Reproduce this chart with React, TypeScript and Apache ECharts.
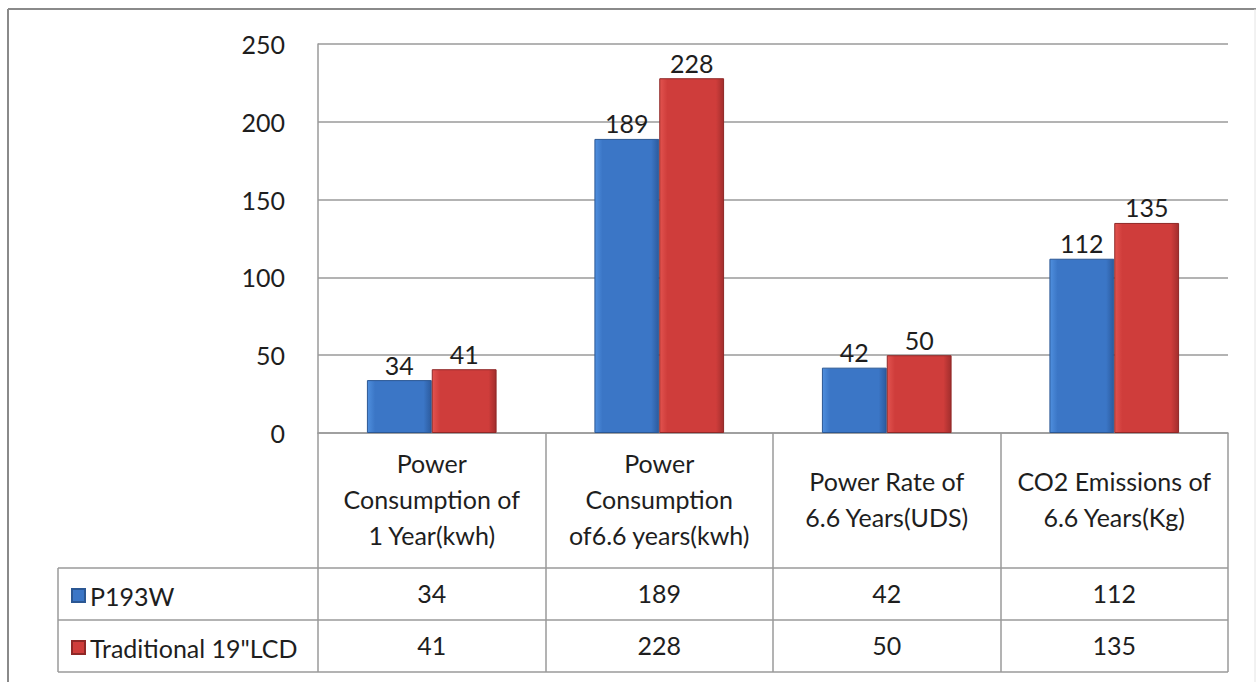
import React, { useEffect, useRef } from "react";
import * as echarts from "echarts";

const categories = [
  "Power\nConsumption of\n1 Year(kwh)",
  "Power\nConsumption\nof6.6 years(kwh)",
  "Power Rate of\n6.6 Years(UDS)",
  "CO2 Emissions of\n6.6 Years(Kg)",
];
const seriesNames = ["P193W", 'Traditional 19"LCD'];
const p193w = [34, 189, 42, 112];
const traditional = [41, 228, 50, 135];
const yTicks = [0, 50, 100, 150, 200, 250];

const FONT = "Lato";
const FS = 25;
const TXT = "#1e1e1e";
const GRAY = "#9a9a9a";

function barColor(light: string, mid: string, dark: string) {
  return new echarts.graphic.LinearGradient(0, 0, 1, 0, [
    { offset: 0, color: light },
    { offset: 0.12, color: mid },
    { offset: 0.88, color: mid },
    { offset: 1, color: dark },
  ]);
}

export default function App() {
  const ref = useRef<HTMLDivElement>(null);
  useEffect(() => {
    if (!ref.current) return;
    const chart = echarts.init(ref.current, undefined, { renderer: "svg" });
    const blue = barColor("#4f8fde", "#3b76c6", "#2c5b9e");
    const red = barColor("#e2534f", "#cf3d3b", "#a22e2d");
    const rowAxis = (vals: number[], offset: number) => ({
      type: "category" as const,
      data: categories,
      position: "bottom" as const,
      offset,
      axisLine: { show: false },
      axisTick: { show: false },
      splitLine: { show: false },
      axisLabel: {
        interval: 0,
        margin: 25,
        verticalAlign: "middle" as const,
        fontFamily: FONT,
        fontSize: FS,
        color: TXT,
        formatter: (_v: string, i: number) => String(vals[i]),
      },
    });
    const barLabel = { show: true, position: "top" as const, distance: 3, fontFamily: FONT, fontSize: FS, color: TXT };
    chart.setOption({
      animation: false,
      backgroundColor: "#ffffff",
      grid: { left: 318, right: 29, top: 44, bottom: 249, containLabel: false },
      legend: {
        orient: "vertical",
        left: 66,
        top: 578,
        itemWidth: 13,
        itemHeight: 13,
        itemGap: 27,
        icon: "rect",
        textStyle: { fontFamily: FONT, fontSize: FS, color: TXT },
        data: seriesNames,
      },
      xAxis: [
        {
          type: "category",
          data: categories,
          axisLine: { show: true, lineStyle: { color: GRAY, width: 1.5 } },
          axisTick: { show: true, length: 239, interval: 0, lineStyle: { color: GRAY, width: 1.5 } },
          axisLabel: {
            interval: 0,
            margin: 66,
            verticalAlign: "middle",
            lineHeight: 36,
            fontFamily: FONT,
            fontSize: FS,
            color: TXT,
          },
        },
        rowAxis(p193w, 135),
        rowAxis(traditional, 187),
      ],
      yAxis: {
        type: "value",
        min: 0,
        max: 250,
        interval: 50,
        axisLine: { show: true, lineStyle: { color: GRAY, width: 1.5 } },
        axisTick: { show: false },
        splitLine: { lineStyle: { color: GRAY, width: 1.5 } },
        axisLabel: {
          margin: 33,
          fontFamily: FONT,
          fontSize: FS,
          color: TXT,
          formatter: (v: number) => (yTicks.includes(v) ? String(v) : ""),
        },
      },
      series: [
        {
          name: seriesNames[0],
          type: "bar",
          data: p193w,
          barGap: "0%",
          barCategoryGap: "43%",
          itemStyle: { color: blue, borderColor: "#2b5793", borderWidth: 1 },
          label: barLabel,
        },
        {
          name: seriesNames[1],
          type: "bar",
          data: traditional,
          itemStyle: { color: red, borderColor: "#8f2827", borderWidth: 1 },
          label: barLabel,
        },
      ],
      graphic: [
        { type: "line", shape: { x1: 8, y1: 9, x2: 1256, y2: 9 }, style: { stroke: "#8a8a8a", lineWidth: 2 } },
        { type: "line", shape: { x1: 8, y1: 9, x2: 8, y2: 682 }, style: { stroke: "#8a8a8a", lineWidth: 2 } },
        { type: "line", shape: { x1: 1255, y1: 9, x2: 1255, y2: 682 }, style: { stroke: "#e4e4e4", lineWidth: 1 } },
        { type: "line", shape: { x1: 58, y1: 568, x2: 1228, y2: 568 }, style: { stroke: GRAY, lineWidth: 1.5 } },
        { type: "line", shape: { x1: 58, y1: 620, x2: 1228, y2: 620 }, style: { stroke: GRAY, lineWidth: 1.5 } },
        { type: "line", shape: { x1: 58, y1: 672, x2: 1228, y2: 672 }, style: { stroke: GRAY, lineWidth: 1.5 } },
        { type: "line", shape: { x1: 58, y1: 568, x2: 58, y2: 672 }, style: { stroke: GRAY, lineWidth: 1.5 } },
      ],
    });
    return () => chart.dispose();
  }, []);
  return (
    <div
      ref={ref}
      style={{ position: "fixed", left: 0, top: 0, width: 1257, height: 682 }}
    />
  );
}
